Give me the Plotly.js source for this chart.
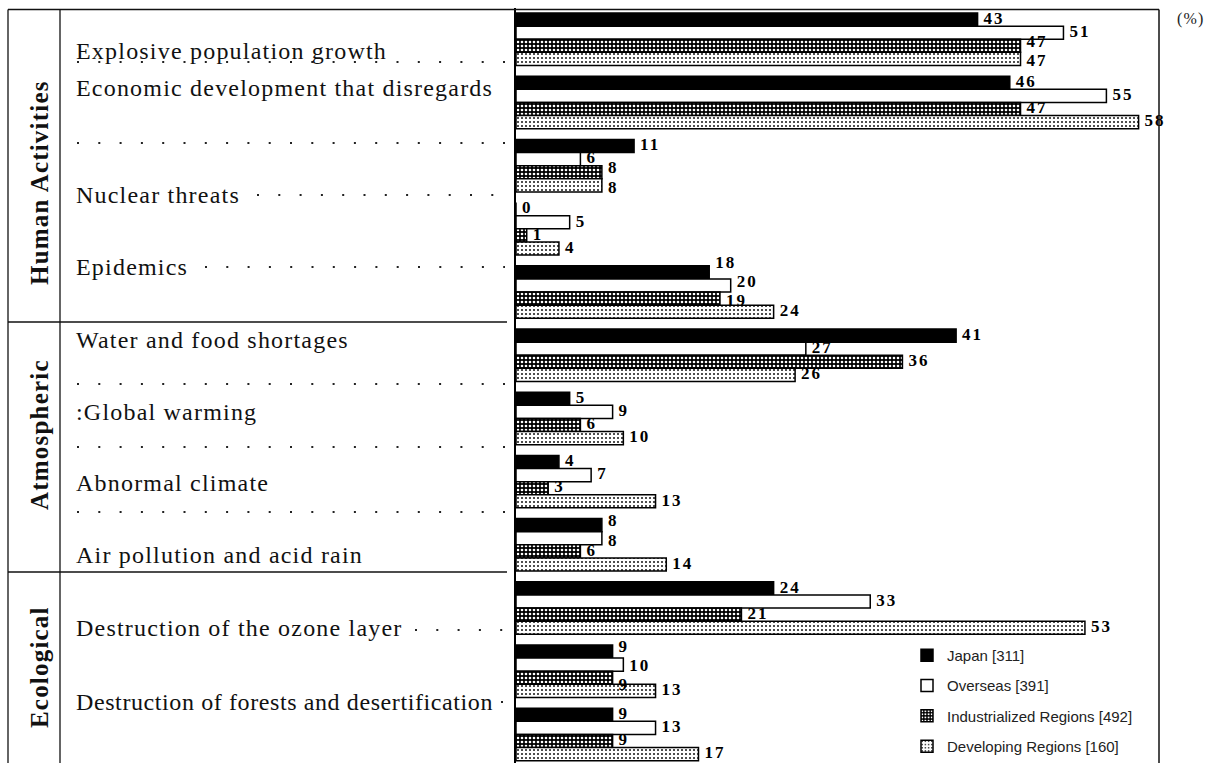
<!DOCTYPE html>
<html>
<head>
<meta charset="utf-8">
<script src="https://cdn.plot.ly/plotly-3.0.1.min.js"></script>
<style>
  html, body { margin: 0; padding: 0; background: #fff; }
  #chart { width: 1222px; height: 763px; }
  /* the printed table uses loosely tracked type */
  text.annotation-text { letter-spacing: 1.2px; }
  g.annotation[data-index="9"] text.annotation-text { letter-spacing: 0.6px; }
  g.textpoint text { letter-spacing: 2px; }
</style>
</head>
<body>
<div id="chart"></div>
<script>
// Share of respondents (%) naming each issue, four respondent groups per row
const groupSlots = [0, 1, 2, 3, 4, 5, 6, 7, 8, 9, 10, 11];

const japan      = [43, 46, 11, 0, 18, 41, 5, 4, 8, 24, 9, 9];
const overseas   = [51, 55, 6, 5, 20, 27, 9, 7, 8, 33, 10, 13];
const industrial = [47, 47, 8, 1, 19, 36, 6, 3, 6, 21, 9, 9];
const developing = [47, 58, 8, 4, 24, 26, 10, 13, 14, 53, 13, 17];

const seriesNames = [
  'Japan [311]',
  'Overseas [391]',
  'Industrialized Regions [492]',
  'Developing Regions [160]'
];

const itemLabels = [
  'Explosive population growth',
  'Economic development that disregards',
  'Nuclear threats',
  'Epidemics',
  'Water and food shortages',
  ':Global warming',
  'Abnormal climate',
  'Air pollution and acid rain',
  'Destruction of the ozone layer',
  'Destruction of forests and desertification'
];

const sectionLabels = ['Human Activities', 'Atmospheric', 'Ecological'];

// ---- page geometry (pixels) ----
const W = 1222, H = 763;
const px = x => x / W;
const py = y => 1 - y / H;

const plotLeft = 516, plotRight = 1159, plotTop = 8;
const slotPx = 63.2;          // height of one row of four bars
const BARGAP = 0.17;
const barUnit = (1 - BARGAP) / 4;

const seriesValues = [japan, overseas, industrial, developing];

const fills = [
  { color: '#000', pattern: { shape: '' } },
  { color: '#fff', pattern: { shape: '' } },
  { color: '#000', pattern: { shape: '.', bgcolor: '#000', fgcolor: '#fff', size: 4, solidity: 0.35 } },
  { color: '#fff', pattern: { shape: '.', bgcolor: '#fff', fgcolor: '#000', size: 4, solidity: 0.17 } }
];

const traces = seriesValues.map((vals, i) => ({
  type: 'bar',
  orientation: 'h',
  name: seriesNames[i],
  legendgroup: 'g' + i,
  y: groupSlots,
  x: vals,
  marker: {
    color: fills[i].color,
    pattern: fills[i].pattern,
    line: { color: '#000', width: 1.5 }
  },
  hoverinfo: 'x+name'
}));

// value labels at the end of each bar; labels that would run into a
// neighbour's label are moved up or down by a few pixels
const labelNudge = {
  '0-2': -3, '0-3': 3,
  '2-2': -3, '2-3': 3,
  '4-0': -9, '4-1': -3, '4-2': 3,
  '8-0': -3, '8-1': 3,
  '10-0': -4, '10-1': 2, '10-2': 8
};
const lx = [], ly = [], lt = [];
seriesValues.forEach((vals, i) => {
  vals.forEach((v, g) => {
    const nudge = labelNudge[g + '-' + i] || 0;
    lx.push(v);
    ly.push(groupSlots[g] + (i - 1.5) * barUnit + nudge / slotPx);
    lt.push(String(v));
  });
});
traces.push({
  type: 'scatter',
  mode: 'markers+text',
  x: lx, y: ly, text: lt,
  marker: { size: 8, color: 'rgba(0,0,0,0)', line: { width: 0 } },
  textposition: 'middle right',
  textfont: { family: 'Liberation Serif', size: 17, color: '#000', weight: 'bold' },
  cliponaxis: false,
  showlegend: false,
  hoverinfo: 'skip'
});

// ---- table frame on the left ----
const shapes = [];
function hline(x0, x1, y, w) {
  shapes.push({ type: 'line', xref: 'paper', yref: 'paper',
    x0: px(x0), x1: px(x1), y0: py(y), y1: py(y),
    line: { color: '#111', width: w || 1.3 } });
}
function vline(x, y0, y1, w) {
  shapes.push({ type: 'line', xref: 'paper', yref: 'paper',
    x0: px(x), x1: px(x), y0: py(y0), y1: py(y1),
    line: { color: '#111', width: w || 1.3 } });
}
function dots(x0, x1, y) {
  shapes.push({ type: 'line', xref: 'paper', yref: 'paper',
    x0: px(x0), x1: px(x1), y0: py(y), y1: py(y),
    line: { color: '#222', width: 2, dash: '2px,19.3px' } });
}

hline(8, plotRight, 9.5, 1.5);
vline(8, 9.5, H);
vline(60, 9.5, H);
vline(plotRight, 9.5, H, 1.5);
hline(8, 507, 322);
hline(8, 507, 572);

// leader dots
dots(77, 505, 62);
dots(77, 505, 143);
dots(257, 505, 195);
dots(205, 505, 267);
dots(77, 505, 384);
dots(77, 505, 447);
dots(77, 505, 512);
dots(415, 505, 630);
dots(501, 504, 702);

// ---- text in the table ----
const itemY = [51, 88, 195, 267, 340, 412, 483, 555, 628, 702];
const annotations = itemLabels.map((t, i) => ({
  xref: 'paper', yref: 'paper',
  x: px(74), y: py(itemY[i]),
  xanchor: 'left', yanchor: 'middle', align: 'left',
  text: t, showarrow: false,
  font: { family: 'Liberation Serif', size: 24, color: '#111' }
}));

const sectionY = [183, 435, 667];
sectionLabels.forEach((t, i) => annotations.push({
  xref: 'paper', yref: 'paper',
  x: px(39), y: py(sectionY[i]),
  xanchor: 'center', yanchor: 'middle',
  text: '<b>' + t + '</b>', textangle: -90, showarrow: false,
  font: { family: 'Liberation Serif', size: 25, color: '#111' }
}));

annotations.push({
  xref: 'paper', yref: 'paper',
  x: px(1191), y: py(19),
  xanchor: 'center', yanchor: 'middle',
  text: '(%)', showarrow: false,
  font: { family: 'Liberation Serif', size: 16, color: '#222' }
});

const layout = {
  width: W, height: H,
  margin: { l: 0, r: 0, t: 0, b: 0, pad: 0 },
  paper_bgcolor: '#fff',
  plot_bgcolor: '#fff',
  barmode: 'group',
  bargap: BARGAP,
  bargroupgap: 0,
  showlegend: true,
  legend: {
    x: px(907), y: 0, xanchor: 'left', yanchor: 'bottom',
    bgcolor: 'rgba(0,0,0,0)',
    font: { family: 'Liberation Sans', size: 15, color: '#222' },
    traceorder: 'grouped',
    tracegroupgap: 7.8,
    itemwidth: 30
  },
  xaxis: {
    domain: [px(plotLeft), px(plotRight)],
    range: [0, 59.9],
    showgrid: false, zeroline: false, showticklabels: false, ticks: '',
    showline: false, fixedrange: true
  },
  yaxis: {
    domain: [0, py(plotTop)],
    range: [11.452, -0.4945],
    showgrid: false, zeroline: false, showticklabels: false, ticks: '',
    showline: true, linecolor: '#000', linewidth: 2, fixedrange: true
  },
  shapes: shapes,
  annotations: annotations
};

Plotly.newPlot('chart', traces, layout, { displayModeBar: false, staticPlot: true });
</script>
</body>
</html>
